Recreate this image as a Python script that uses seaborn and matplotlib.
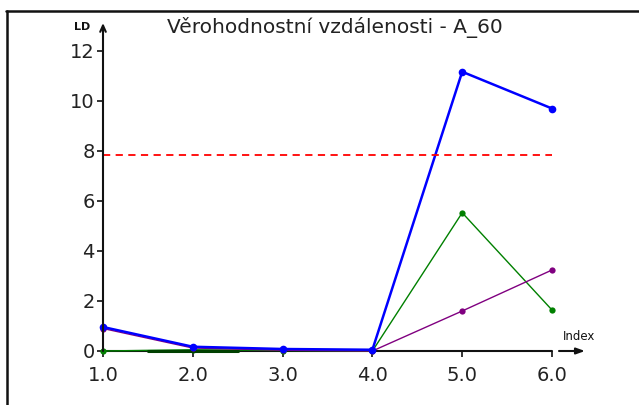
import matplotlib
matplotlib.use("Agg")
import matplotlib.pyplot as plt
from matplotlib.lines import Line2D
import seaborn as sns
import pandas as pd

# ---- data ----
index_vals = [1.0, 2.0, 3.0, 4.0, 5.0, 6.0]
blue_vals = [0.96, 0.17, 0.08, 0.05, 11.17, 9.70]
green_vals = [0.00, 0.05, 0.02, 0.00, 5.53, 1.64]
purple_vals = [0.90, 0.12, 0.03, 0.00, 1.60, 3.24]
segment_x = [1.5, 2.5]
segment_y = [0.02, 0.02]
threshold = 7.84
x_ticks = [1.0, 2.0, 3.0, 4.0, 5.0, 6.0]
x_tick_labels = ["1.0", "2.0", "3.0", "4.0", "5.0", "6.0"]
y_ticks = [0, 2, 4, 6, 8, 10, 12]
y_tick_labels = ["0", "2", "4", "6", "8", "10", "12"]
title = "Věrohodnostní vzdálenosti - A_60"

sns.set_style("white")
plt.rcParams["font.family"] = ["DejaVu Sans"]

W, H = 639, 405
fig = plt.figure(figsize=(W / 100, H / 100), dpi=100)

# axes placement in pixels: x=1 at px 103, x=6 at px 552 ; y=0 at px 351, y=12 at px 51
px_x0, px_x1 = 103, 552
px_y0, px_y12 = 351, 51
ppu_x = (px_x1 - px_x0) / 5.0
ppu_y = (px_y0 - px_y12) / 12.0
ax_left_px, ax_right_px = 103, 605
ax_top_px = 18
ax = fig.add_axes([ax_left_px / W, (H - px_y0) / H,
                   (ax_right_px - ax_left_px) / W, (px_y0 - ax_top_px) / H])
ax.set_xlim(1.0, 1.0 + (ax_right_px - ax_left_px) / ppu_x)
ax.set_ylim(0.0, (px_y0 - ax_top_px) / ppu_y)
for s in ax.spines.values():
    s.set_visible(False)

df = pd.DataFrame({"index": index_vals, "blue": blue_vals,
                   "green": green_vals, "purple": purple_vals})

sns.lineplot(data=df, x="index", y="green", ax=ax, color="#008000", lw=1.0,
             marker="o", markersize=4.5, markeredgewidth=0, clip_on=False,
             sort=False)
sns.lineplot(x=segment_x, y=segment_y, ax=ax, color="#004000", lw=2.2,
             clip_on=False)
sns.lineplot(data=df, x="index", y="purple", ax=ax, color="#800080", lw=1.0,
             marker="o", markersize=4.5, markeredgewidth=0, clip_on=False,
             sort=False)
sns.lineplot(data=df, x="index", y="blue", ax=ax, color="#0000ff", lw=1.8,
             marker="o", markersize=5.5, markeredgewidth=0, clip_on=False,
             sort=False)
ax.plot([index_vals[0], index_vals[-1]], [threshold, threshold],
        color="#ff0000", lw=1.3, dashes=(4, 3))

# axis lines with arrows
y_tip = (px_y0 - 23) / ppu_y
ax.annotate("", xy=(1.0, y_tip), xytext=(1.0, 0.0),
            arrowprops=dict(arrowstyle="->,head_length=0.45,head_width=0.2",
                            lw=1.5, color="#111111", shrinkA=0, shrinkB=0),
            annotation_clip=False)
ax.plot([index_vals[0], index_vals[-1]], [0, 0], color="#111111", lw=1.5,
        clip_on=False, zorder=1)
ax.annotate("", xy=(1.0 + 33 / ppu_x + 5, 0), xytext=(1.0 + 7 / ppu_x + 5, 0),
            arrowprops=dict(arrowstyle="-|>,head_length=0.5,head_width=0.18",
                            lw=1.5, color="#111111", shrinkA=0, shrinkB=0),
            annotation_clip=False)
ax.text(6.0 + 11 / ppu_x, 14 / ppu_y, "Index", fontsize=8.5, ha="left",
        va="center", color="#111111")
ax.text(1.0 - 13 / ppu_x, (px_y0 - 27) / ppu_y, "LD", fontsize=8,
        fontweight="bold", ha="right", va="center", color="#111111")

ax.set_xticks(x_ticks)
ax.set_xticklabels(x_tick_labels)
ax.set_yticks(y_ticks)
ax.set_yticklabels(y_tick_labels)
ax.tick_params(axis="both", which="both", length=4.5, width=1.2,
               colors="#111111", labelsize=14, labelcolor="#222222")
ax.tick_params(axis="x", bottom=True, direction="out", pad=6)
ax.tick_params(axis="y", left=True, direction="out", pad=1.5)
ax.set_xlabel("")
ax.set_ylabel("")

fig.text(335 / W, 1 - 27 / H, title, fontsize=14.5, ha="center",
         va="center", color="#222222")

# outer frame
fig.add_artist(Line2D([6 / W, 1.0], [1 - 11 / H, 1 - 11 / H],
                      transform=fig.transFigure, color="#111111", lw=1.8))
fig.add_artist(Line2D([7 / W, 7 / W], [1 - 11 / H, 0.0],
                      transform=fig.transFigure, color="#111111", lw=1.8))

fig.savefig("out.png", dpi=100)
